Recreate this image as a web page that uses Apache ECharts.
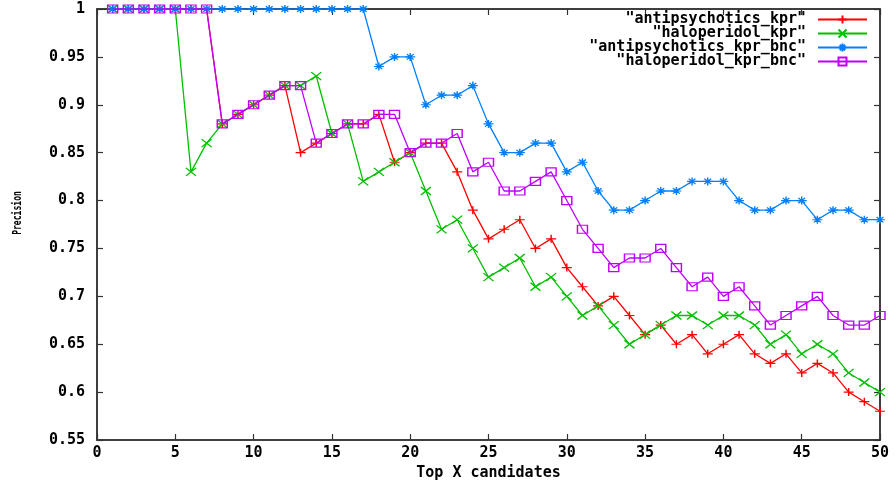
<!DOCTYPE html>
<html>
<head>
<meta charset="utf-8">
<script src="https://cdn.jsdelivr.net/npm/echarts@6/dist/echarts.min.js"></script>
<style>
html,body{margin:0;padding:0;background:#fff;}
#chart{width:896px;height:484px;}
</style>
</head>
<body>
<div id="chart"></div>
<script>
// ---- data ----
const candidates = [1,2,3,4,5,6,7,8,9,10,11,12,13,14,15,16,17,18,19,20,21,22,23,24,25,26,27,28,29,30,31,32,33,34,35,36,37,38,39,40,41,42,43,44,45,46,47,48,49,50];

const antipsychoticsKpr = [1,1,1,1,1,1,1,0.88,0.89,0.90,
  0.91,0.92,0.85,0.86,0.87,0.88,0.88,0.89,0.84,0.85,
  0.86,0.86,0.83,0.79,0.76,0.77,0.78,0.75,0.76,0.73,
  0.71,0.69,0.70,0.68,0.66,0.67,0.65,0.66,0.64,0.65,
  0.66,0.64,0.63,0.64,0.62,0.63,0.62,0.60,0.59,0.58];

const haloperidolKpr = [1,1,1,1,1,0.83,0.86,0.88,0.89,0.90,
  0.91,0.92,0.92,0.93,0.87,0.88,0.82,0.83,0.84,0.85,
  0.81,0.77,0.78,0.75,0.72,0.73,0.74,0.71,0.72,0.70,
  0.68,0.69,0.67,0.65,0.66,0.67,0.68,0.68,0.67,0.68,
  0.68,0.67,0.65,0.66,0.64,0.65,0.64,0.62,0.61,0.60];

const antipsychoticsKprBnc = [1,1,1,1,1,1,1,1,1,1,
  1,1,1,1,1,1,1,0.94,0.95,0.95,
  0.90,0.91,0.91,0.92,0.88,0.85,0.85,0.86,0.86,0.83,
  0.84,0.81,0.79,0.79,0.80,0.81,0.81,0.82,0.82,0.82,
  0.80,0.79,0.79,0.80,0.80,0.78,0.79,0.79,0.78,0.78];

const haloperidolKprBnc = [1,1,1,1,1,1,1,0.88,0.89,0.90,
  0.91,0.92,0.92,0.86,0.87,0.88,0.88,0.89,0.89,0.85,
  0.86,0.86,0.87,0.83,0.84,0.81,0.81,0.82,0.83,0.80,
  0.77,0.75,0.73,0.74,0.74,0.75,0.73,0.71,0.72,0.70,
  0.71,0.69,0.67,0.68,0.69,0.70,0.68,0.67,0.67,0.68];

const seriesNames = ['"antipsychotics_kpr"', '"haloperidol_kpr"', '"antipsychotics_kpr_bnc"', '"haloperidol_kpr_bnc"'];
const xTicks = [0, 50, 5];        // min, max, step
const yTicks = [0.55, 1, 0.05];   // min, max, step
const xTitle = 'Top X candidates';
const yTitle = 'Precision';

// ---- styling ----
const FONT = '"DejaVu Sans Mono", "Liberation Mono", monospace';
const colors = ['#ff0000', '#00c000', '#0080ff', '#c000ff'];
const symbols = [
  'path://M0,5L10,5M5,0L5,10',
  'path://M0,0L10,10M10,0L0,10',
  'path://M0,5L10,5M5,0L5,10M1.6,1.6L8.4,8.4M8.4,1.6L1.6,8.4',
  'path://M0,0L10,0L10,10L0,10Z'
];
const values = [antipsychoticsKpr, haloperidolKpr, antipsychoticsKprBnc, haloperidolKprBnc];

const pairs = v => candidates.map((c, i) => [c, v[i]]);

const series = values.map((v, k) => ({
  name: seriesNames[k],
  type: 'line',
  data: pairs(v),
  xAxisIndex: 0,
  yAxisIndex: 0,
  symbol: symbols[k],
  symbolSize: [10, 8],
  showSymbol: true,
  showAllSymbol: true,
  animation: false,
  lineStyle: { color: colors[k], width: 1.3 },
  itemStyle: {
    color: k === 3 ? 'rgba(0,0,0,0)' : colors[k],
    borderColor: colors[k],
    borderWidth: 1.3
  },
  emphasis: { disabled: true },
  z: 2 + k
}));
// empty helper series so the mirrored (top/right) axes are drawn
series.push({ type: 'line', xAxisIndex: 1, yAxisIndex: 1, data: [], silent: true });

const axisLineStyle = { show: true, onZero: false, lineStyle: { color: '#333', width: 1.5 } };
const tickStyle = { show: true, inside: true, length: 6, lineStyle: { color: '#333', width: 1.2 } };
const labelFont = { fontFamily: FONT, fontWeight: 'bold', fontSize: 15, color: '#000' };

const legendTops = [12, 26, 40, 54];
const legends = seriesNames.map((n, k) => ({
  data: [n],
  orient: 'vertical',
  right: 28,
  top: legendTops[k],
  padding: 0,
  align: 'right',
  itemWidth: 49,
  itemHeight: 10,
  selectedMode: false,
  textStyle: { fontFamily: FONT, fontWeight: 'bold', fontSize: 15, color: '#000', lineHeight: 14, padding: [0, 7, 0, 0] }
}));

const option = {
  backgroundColor: '#fff',
  animation: false,
  grid: { left: 97, right: 16, top: 9, bottom: 44, containLabel: false, outerBoundsMode: 'none',
          show: true, borderColor: '#333', borderWidth: 1.5, backgroundColor: 'transparent' },
  legend: legends,
  xAxis: [{
    type: 'value', min: xTicks[0], max: xTicks[1], interval: xTicks[2], position: 'bottom',
    name: xTitle, nameLocation: 'middle', nameGap: 24,
    nameTextStyle: { fontFamily: FONT, fontWeight: 'bold', fontSize: 15, color: '#000' },
    axisLine: axisLineStyle, axisTick: tickStyle,
    axisLabel: Object.assign({ margin: 6 }, labelFont),
    splitLine: { show: false }
  }, {
    type: 'value', min: xTicks[0], max: xTicks[1], interval: xTicks[2], position: 'top',
    axisLine: axisLineStyle, axisTick: tickStyle, axisLabel: { show: false }, splitLine: { show: false }
  }],
  yAxis: [{
    type: 'value', min: yTicks[0], max: yTicks[1], interval: yTicks[2], position: 'left',
    axisLine: axisLineStyle, axisTick: tickStyle,
    axisLabel: Object.assign({ margin: 12, formatter: v => String(+v.toFixed(2)) }, labelFont),
    splitLine: { show: false }
  }, {
    type: 'value', min: yTicks[0], max: yTicks[1], interval: yTicks[2], position: 'right',
    axisLine: axisLineStyle, axisTick: tickStyle, axisLabel: { show: false }, splitLine: { show: false }
  }],
  graphic: [{
    type: 'text',
    x: 18, y: 213,
    rotation: Math.PI / 2,
    scaleX: 0.62,
    style: { text: yTitle, fontFamily: FONT, fontSize: 13, fontWeight: 'bold', fill: '#000', textAlign: 'center', textVerticalAlign: 'middle' }
  }],
  series: series
};

const chart = echarts.init(document.getElementById('chart'), null, { renderer: 'canvas' });
chart.setOption(option);
</script>
</body>
</html>
